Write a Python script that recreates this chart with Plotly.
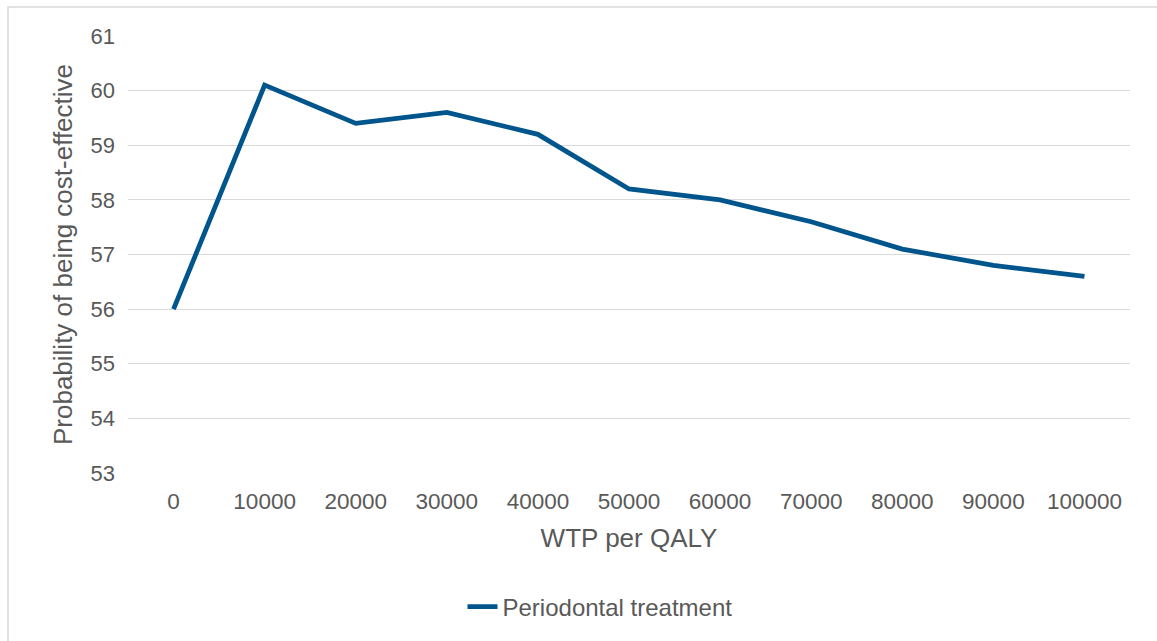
import plotly.graph_objects as go

# WTP thresholds (per QALY) and probability of periodontal treatment being cost-effective
wtp_labels = ["0", "10000", "20000", "30000", "40000", "50000",
              "60000", "70000", "80000", "90000", "100000"]
prob_cost_effective = [56.0, 60.1, 59.4, 59.6, 59.2, 58.2, 58.0, 57.6, 57.1, 56.8, 56.6]
series_name = "Periodontal treatment"

y_ticks = [53, 54, 55, 56, 57, 58, 59, 60, 61]

W, H = 1157, 641
L, R, T, B = 128, 27, 36, 168
plot_w = W - L - R
plot_h = H - T - B

text_color = "#595959"
grid_color = "#D9D9D9"
line_color = "#00558C"
font_family = "Liberation Sans, Arial, sans-serif"

fig = go.Figure()
fig.add_trace(go.Scatter(
    x=wtp_labels,
    y=prob_cost_effective,
    mode="lines",
    name=series_name,
    line=dict(color=line_color, width=4.8),
    showlegend=True,
))

def px_to_paper_x(px):
    return (px - L) / plot_w

def px_to_paper_y(py):
    return (H - B - py) / plot_h

# outer chart border
fig.add_shape(
    type="rect", xref="paper", yref="paper",
    x0=px_to_paper_x(8), x1=px_to_paper_x(W + 5),
    y0=px_to_paper_y(H + 5), y1=px_to_paper_y(7),
    line=dict(color=grid_color, width=1.5),
    fillcolor="rgba(0,0,0,0)", layer="below",
)

fig.update_layout(
    width=W, height=H,
    margin=dict(l=L, r=R, t=T, b=B, pad=0),
    paper_bgcolor="white",
    plot_bgcolor="white",
    font=dict(family=font_family, color=text_color, size=22),
    showlegend=True,
    legend=dict(
        orientation="h",
        x=px_to_paper_x(600), xanchor="center",
        y=px_to_paper_y(607), yanchor="middle",
        font=dict(size=24, color=text_color),
        bgcolor="rgba(0,0,0,0)",
    ),
    xaxis=dict(
        type="category",
        range=[-0.5, len(wtp_labels) - 0.5],
        showgrid=False,
        showline=False,
        zeroline=False,
        ticks="",
        tickfont=dict(size=22.5, color=text_color),
        ticklabelstandoff=12,
        title=dict(text="WTP per QALY", font=dict(size=26, color=text_color), standoff=16),
    ),
    yaxis=dict(
        range=[53, 61],
        tickvals=y_ticks,
        showgrid=True,
        gridcolor=grid_color,
        gridwidth=1.3,
        showline=False,
        zeroline=False,
        ticks="",
        tickfont=dict(size=22, color=text_color),
        ticklabelstandoff=12,
        title=dict(text="Probability of being cost-effective",
                   font=dict(size=26, color=text_color), standoff=10),
    ),
)

fig.write_html("out.html")
